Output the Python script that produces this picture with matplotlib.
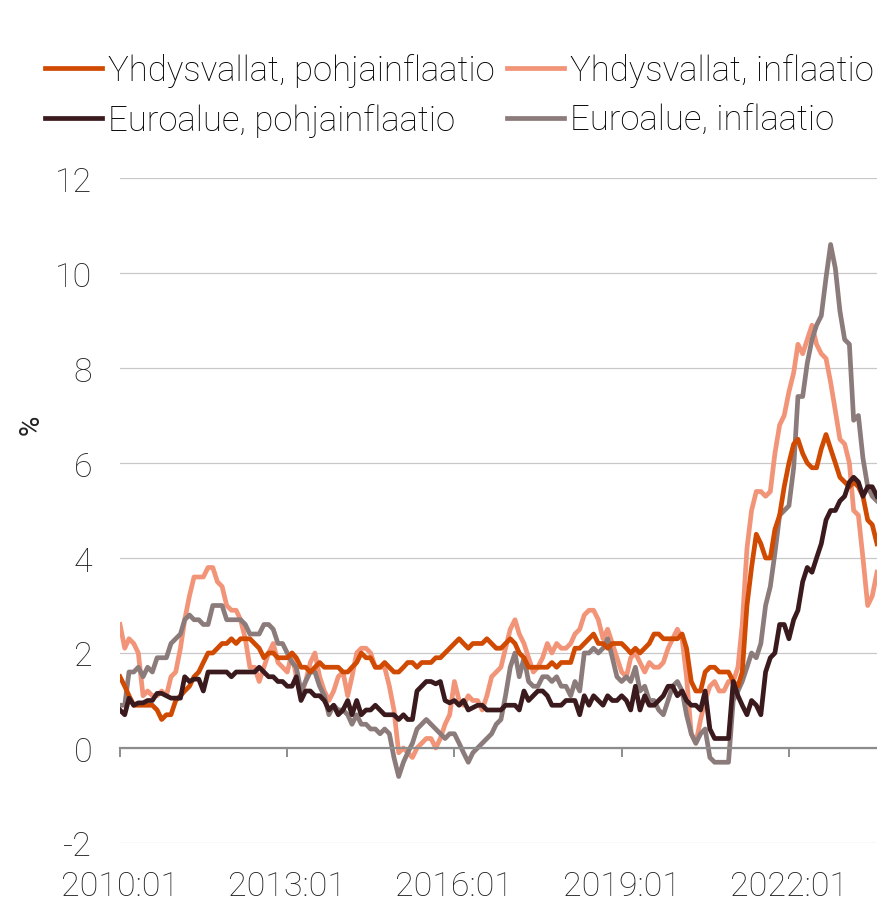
import numpy as np
import pandas as pd
import matplotlib
matplotlib.use("Agg")
import matplotlib.pyplot as plt
import matplotlib.dates as mdates

## DATA (monthly, 2010:01 - 2023:08, % y/y)

months = pd.date_range("2010-01-01", periods=164, freq="MS")

usCore = [
    1.5, 1.3, 1.1, 0.9, 0.9, 0.9, 0.9, 0.9, 0.8, 0.6, 0.7, 0.7,
    1.0, 1.1, 1.2, 1.3, 1.5, 1.6, 1.8, 2.0, 2.0, 2.1, 2.2, 2.2,
    2.3, 2.2, 2.3, 2.3, 2.3, 2.2, 2.1, 1.9, 2.0, 2.0, 1.9, 1.9,
    1.9, 2.0, 1.9, 1.7, 1.7, 1.6, 1.7, 1.8, 1.7, 1.7, 1.7, 1.7,
    1.6, 1.6, 1.7, 1.8, 2.0, 1.9, 1.9, 1.7, 1.7, 1.8, 1.7, 1.6,
    1.6, 1.7, 1.8, 1.8, 1.7, 1.8, 1.8, 1.8, 1.9, 1.9, 2.0, 2.1,
    2.2, 2.3, 2.2, 2.1, 2.2, 2.2, 2.2, 2.3, 2.2, 2.1, 2.1, 2.2,
    2.3, 2.2, 2.0, 1.9, 1.7, 1.7, 1.7, 1.7, 1.7, 1.8, 1.7, 1.8,
    1.8, 1.8, 2.1, 2.1, 2.2, 2.3, 2.4, 2.2, 2.2, 2.1, 2.2, 2.2,
    2.2, 2.1, 2.0, 2.1, 2.0, 2.1, 2.2, 2.4, 2.4, 2.3, 2.3, 2.3,
    2.3, 2.4, 2.1, 1.4, 1.2, 1.2, 1.6, 1.7, 1.7, 1.6, 1.6, 1.6,
    1.4, 1.3, 1.6, 3.0, 3.8, 4.5, 4.3, 4.0, 4.0, 4.6, 4.9, 5.5,
    6.0, 6.4, 6.5, 6.2, 6.0, 5.9, 5.9, 6.3, 6.6, 6.3, 6.0, 5.7,
    5.6, 5.5, 5.6, 5.5, 5.3, 4.8, 4.7, 4.3,
]

usCpi = [
    2.6, 2.1, 2.3, 2.2, 2.0, 1.1, 1.2, 1.1, 1.1, 1.2, 1.1, 1.5,
    1.6, 2.1, 2.7, 3.2, 3.6, 3.6, 3.6, 3.8, 3.8, 3.5, 3.4, 3.0,
    2.9, 2.9, 2.7, 2.3, 1.7, 1.7, 1.4, 1.7, 2.0, 2.2, 1.8, 1.7,
    1.6, 2.0, 1.5, 1.1, 1.4, 1.8, 2.0, 1.5, 1.2, 1.0, 1.2, 1.5,
    1.6, 1.1, 1.5, 2.0, 2.1, 2.1, 2.0, 1.7, 1.7, 1.7, 1.3, 0.8,
    -0.1, 0.0, -0.1, -0.2, 0.0, 0.1, 0.2, 0.2, 0.0, 0.2, 0.5, 0.7,
    1.4, 1.0, 0.9, 1.1, 1.0, 1.0, 0.8, 1.1, 1.5, 1.6, 1.7, 2.1,
    2.5, 2.7, 2.4, 2.2, 1.9, 1.6, 1.7, 1.9, 2.2, 2.0, 2.2, 2.1,
    2.1, 2.2, 2.4, 2.5, 2.8, 2.9, 2.9, 2.7, 2.3, 2.5, 2.2, 1.9,
    1.6, 1.5, 1.9, 2.0, 1.8, 1.6, 1.8, 1.7, 1.7, 1.8, 2.1, 2.3,
    2.5, 2.3, 1.5, 0.3, 0.1, 0.6, 1.0, 1.3, 1.4, 1.2, 1.2, 1.4,
    1.4, 1.7, 2.6, 4.2, 5.0, 5.4, 5.4, 5.3, 5.4, 6.2, 6.8, 7.0,
    7.5, 7.9, 8.5, 8.3, 8.6, 8.9, 8.5, 8.3, 8.2, 7.7, 7.1, 6.5,
    6.4, 6.0, 5.0, 4.9, 4.0, 3.0, 3.2, 3.7,
]

euCore = [
    0.8, 0.7, 1.05, 0.9, 0.95, 0.95, 1.0, 1.0, 1.15, 1.15, 1.1, 1.05,
    1.05, 1.05, 1.5, 1.4, 1.45, 1.45, 1.2, 1.6, 1.6, 1.6, 1.6, 1.6,
    1.5, 1.6, 1.6, 1.6, 1.6, 1.6, 1.7, 1.6, 1.5, 1.5, 1.4, 1.4,
    1.3, 1.3, 1.5, 1.0, 1.2, 1.2, 1.1, 1.1, 1.0, 0.8, 0.9, 0.7,
    0.8, 1.0, 0.7, 1.0, 0.7, 0.8, 0.8, 0.9, 0.8, 0.7, 0.7, 0.7,
    0.6, 0.7, 0.6, 0.6, 1.2, 1.3, 1.4, 1.4, 1.35, 1.4, 1.0, 0.95,
    1.0, 0.9, 1.0, 0.8, 0.85, 0.9, 0.9, 0.8, 0.8, 0.8, 0.8, 0.9,
    0.9, 0.9, 0.8, 1.2, 1.0, 1.1, 1.2, 1.2, 1.1, 0.9, 0.9, 0.9,
    1.0, 1.0, 1.0, 0.7, 1.1, 0.9, 1.1, 1.0, 0.9, 1.1, 1.0, 1.0,
    1.1, 1.0, 0.8, 1.3, 0.8, 1.1, 0.9, 0.9, 1.0, 1.1, 1.3, 1.3,
    1.1, 1.2, 1.0, 0.9, 0.9, 0.8, 1.2, 0.4, 0.2, 0.2, 0.2, 0.2,
    1.4, 1.1, 0.9, 0.7, 1.0, 0.9, 0.7, 1.6, 1.9, 2.0, 2.6, 2.6,
    2.3, 2.7, 2.9, 3.5, 3.8, 3.7, 4.0, 4.3, 4.8, 5.0, 5.0, 5.2,
    5.3, 5.6, 5.7, 5.6, 5.3, 5.5, 5.5, 5.3,
]

euHicp = [
    0.9, 0.9, 1.6, 1.6, 1.7, 1.5, 1.7, 1.6, 1.9, 1.9, 1.9, 2.2,
    2.3, 2.4, 2.7, 2.8, 2.7, 2.7, 2.6, 2.6, 3.0, 3.0, 3.0, 2.7,
    2.7, 2.7, 2.7, 2.6, 2.4, 2.4, 2.4, 2.6, 2.6, 2.5, 2.2, 2.2,
    2.0, 1.8, 1.7, 1.2, 1.4, 1.6, 1.6, 1.3, 1.1, 0.7, 0.9, 0.8,
    0.8, 0.7, 0.5, 0.7, 0.5, 0.5, 0.4, 0.4, 0.3, 0.4, 0.3, -0.2,
    -0.6, -0.3, -0.1, 0.1, 0.4, 0.5, 0.6, 0.5, 0.4, 0.3, 0.2, 0.3,
    0.3, 0.1, -0.1, -0.3, -0.1, 0.0, 0.1, 0.2, 0.3, 0.5, 0.6, 1.1,
    1.7, 2.0, 1.5, 1.9, 1.4, 1.3, 1.3, 1.5, 1.5, 1.4, 1.5, 1.3,
    1.3, 1.1, 1.4, 1.2, 2.0, 2.0, 2.1, 2.0, 2.1, 2.3, 1.9, 1.5,
    1.4, 1.5, 1.4, 1.7, 1.2, 1.3, 1.0, 1.0, 0.8, 0.7, 1.0, 1.3,
    1.4, 1.2, 0.7, 0.3, 0.1, 0.3, 0.4, -0.2, -0.3, -0.3, -0.3, -0.3,
    1.0, 1.2, 1.4, 1.7, 2.0, 1.9, 2.2, 3.0, 3.4, 4.1, 4.9, 5.0,
    5.1, 5.9, 7.4, 7.4, 8.1, 8.6, 8.9, 9.1, 9.9, 10.6, 10.1, 9.2,
    8.6, 8.5, 6.9, 7.0, 6.1, 5.5, 5.3, 5.2,
]

labels = [
    "Yhdysvallat, pohjainflaatio",
    "Euroalue, pohjainflaatio",
    "Yhdysvallat, inflaatio",
    "Euroalue, inflaatio",
]
colors = ["#D04A02", "#3B1A1E", "#F29478", "#8C7B7B"]

tickYears = [2010, 2013, 2016, 2019, 2022]

## PLOT

plt.rcParams["font.family"] = ["Roboto", "DejaVu Sans"]
plt.rcParams["font.weight"] = "light"
plt.rcParams["axes.unicode_minus"] = False

fig = plt.figure(figsize=(8.77, 9.04), dpi=100)
ax = fig.add_axes([120 / 877, 1 - 844 / 904, 1 - 120 / 877, (844 - 179) / 904])

ax.set_ylim(-2, 12)
ax.set_yticks(np.arange(-2, 13, 2))
ax.set_xlim(months[0], months[-1])
ax.yaxis.grid(True, color="#c8c8c8", linewidth=0.9)
ax.set_axisbelow(True)

lines = []
for vals, lab, col in zip([usCpi, euHicp, usCore, euCore],
                          [labels[2], labels[3], labels[0], labels[1]],
                          [colors[2], colors[3], colors[0], colors[1]]):
    ln, = ax.plot(months, vals, color=col, linewidth=3.4, label=lab,
                  solid_joinstyle="round")
    lines.append(ln)

for s in ["top", "right", "left"]:
    ax.spines[s].set_visible(False)
ax.spines["bottom"].set_position(("data", 0))
ax.spines["bottom"].set_color("#8c8c8c")
ax.spines["bottom"].set_linewidth(1.6)

ax.set_xticks([pd.Timestamp(f"{y}-01-01") for y in tickYears])
ax.xaxis.set_major_formatter(mdates.DateFormatter("%Y:%m"))
ax.tick_params(axis="x", direction="out", length=6.5, width=1.4, color="#8c8c8c",
               pad=81, labelsize=24.5, labelcolor="#222222")
ax.tick_params(axis="y", length=0, pad=20, labelsize=24.5, labelcolor="#222222")

ax.set_ylabel("%", fontsize=20, color="#222222")
ax.yaxis.set_label_coords(-0.1, 0.63)

byLabel = {ln.get_label(): ln for ln in lines}
handles = [byLabel[l] for l in labels]
fig.legend(handles, labels, loc="upper left", bbox_to_anchor=(45 / 877, 1 - 54 / 904),
           ncol=2, frameon=False, fontsize=25, handlelength=1.64, handletextpad=0.17,
           columnspacing=0.37, labelspacing=0.47, borderpad=0, borderaxespad=0)

plt.savefig("out.png", dpi=100)
